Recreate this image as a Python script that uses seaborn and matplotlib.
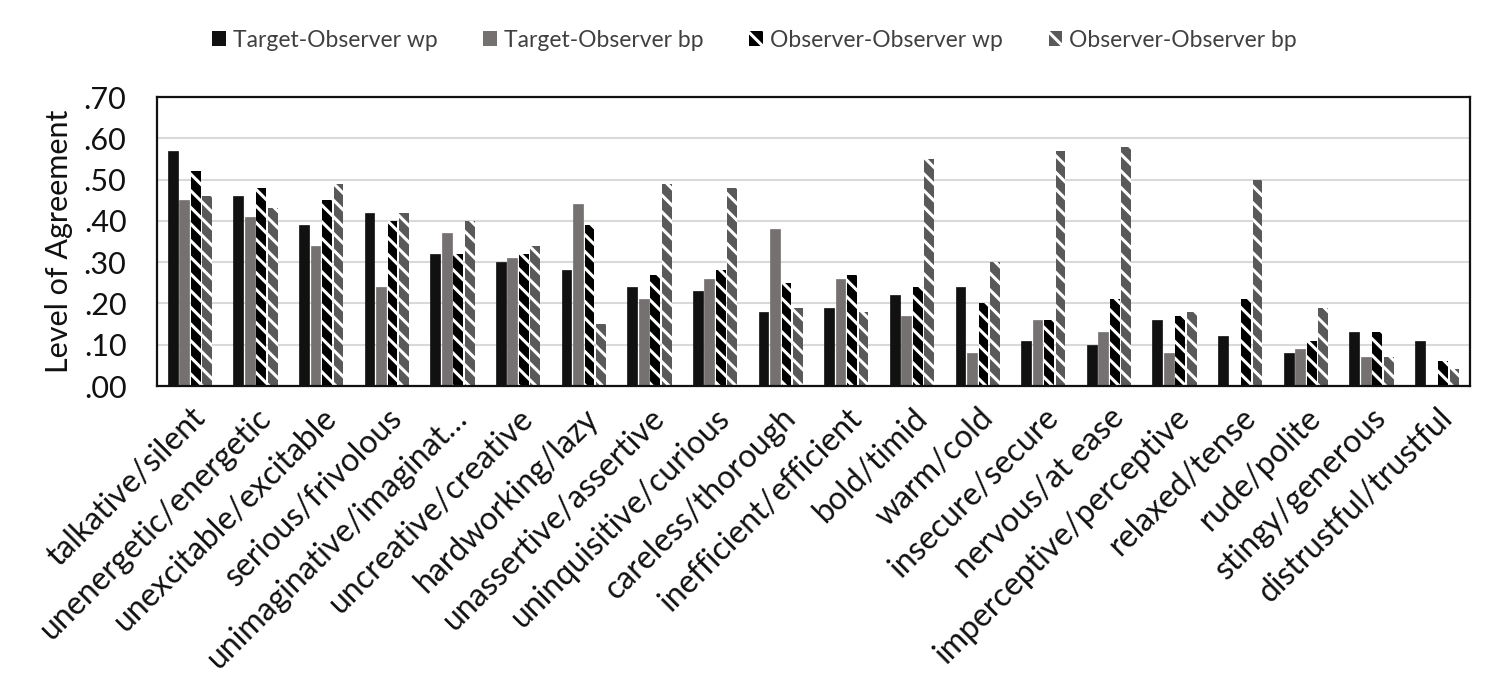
import matplotlib
matplotlib.use("Agg")
import matplotlib.pyplot as plt
import seaborn as sns
import pandas as pd
from matplotlib.patches import Patch
from matplotlib.ticker import FixedLocator, FuncFormatter

categories = ["talkative/silent", "unenergetic/energetic", "unexcitable/excitable",
              "serious/frivolous", "unimaginative/imaginat\u2026", "uncreative/creative",
              "hardworking/lazy", "unassertive/assertive", "uninquisitive/curious",
              "careless/thorough", "inefficient/efficient", "bold/timid", "warm/cold",
              "insecure/secure", "nervous/at ease", "imperceptive/perceptive",
              "relaxed/tense", "rude/polite", "stingy/generous", "distrustful/trustful"]
series = ["Target-Observer wp", "Target-Observer bp",
          "Observer-Observer wp", "Observer-Observer bp"]
to_wp = [.57, .46, .39, .42, .32, .30, .28, .24, .23, .18, .19, .22, .24, .11, .10, .16, .12, .08, .13, .11]
to_bp = [.45, .41, .34, .24, .37, .31, .44, .21, .26, .38, .26, .17, .08, .16, .13, .08, .00, .09, .07, -.005]
oo_wp = [.52, .48, .45, .40, .32, .32, .39, .27, .28, .25, .27, .24, .20, .16, .21, .17, .21, .11, .13, .06]
oo_bp = [.46, .43, .49, .42, .40, .34, .15, .49, .48, .19, .18, .55, .30, .57, .58, .18, .50, .19, .07, .04]
yticks = [0.0, 0.1, 0.2, 0.3, 0.4, 0.5, 0.6, 0.7]

values = [to_wp, to_bp, oo_wp, oo_bp]
df = pd.DataFrame({
    "trait": [c for s in series for c in categories],
    "series": [s for s in series for c in categories],
    "value": [v for vals in values for v in vals],
})

sns.set_theme(style="white")
plt.rcParams["font.family"] = ["Lato", "DejaVu Sans"]
plt.rcParams["hatch.color"] = "white"
plt.rcParams["hatch.linewidth"] = 2.2

fig = plt.figure(figsize=(15, 6.95), dpi=100)
ax = fig.add_axes([0.1047, 0.4446, 0.98 - 0.1047, 0.8604 - 0.4446])

sns.barplot(data=df, x="trait", y="value", hue="series", order=categories,
            hue_order=series, width=0.7, gap=0.15, ax=ax, legend=False,
            errorbar=None)

styles = [
    dict(fc="#111111", hatch=None),
    dict(fc="#767171", hatch=None),
    dict(fc="#000000", hatch="\\\\"),
    dict(fc="#595959", hatch="\\\\"),
]
for cont, st in zip(ax.containers, styles):
    for p in cont.patches:
        p.set_facecolor(st["fc"])
        if st["hatch"]:
            p.set_hatch(st["hatch"])
            p.set_edgecolor("white")
            p.set_linewidth(0)
        else:
            p.set_edgecolor(st["fc"])
            p.set_linewidth(0.5)

ax.set_ylim(0, 0.70)
ax.set_xlim(-0.5, len(categories) - 0.5)
ax.yaxis.set_major_locator(FixedLocator(yticks))
ax.yaxis.set_major_formatter(FuncFormatter(lambda v, pos: f"{v:.2f}"[1:] if v >= 0 else f"{v:.2f}"))
ax.grid(axis="y", color="#d9d9d9", linewidth=1.5)
ax.set_axisbelow(True)
for sp in ax.spines.values():
    sp.set_visible(True)
    sp.set_color("#111111")
    sp.set_linewidth(1.6)
ax.tick_params(axis="both", length=0, colors="#111111")
ax.tick_params(axis="y", labelsize=22, pad=22)
ax.tick_params(axis="x", pad=12)
ax.set_xlabel("")
ax.set_ylabel("Level of Agreement", fontsize=22, color="#111111", labelpad=8)
plt.setp(ax.get_xticklabels(), rotation=45, ha="right", rotation_mode="anchor", fontsize=23)

handles = []
for s, st in zip(series, styles):
    handles.append(Patch(facecolor=st["fc"], edgecolor="white" if st["hatch"] else st["fc"],
                         hatch=st["hatch"], linewidth=0, label=s))
fig.legend(handles=handles, loc="center", bbox_to_anchor=(0.503, 0.942), ncol=4,
           frameon=False, fontsize=16.5, handlelength=0.6, handleheight=0.6,
           handletextpad=0.3, columnspacing=2.0, labelcolor="#404040")

fig.savefig("out.png", dpi=100)
